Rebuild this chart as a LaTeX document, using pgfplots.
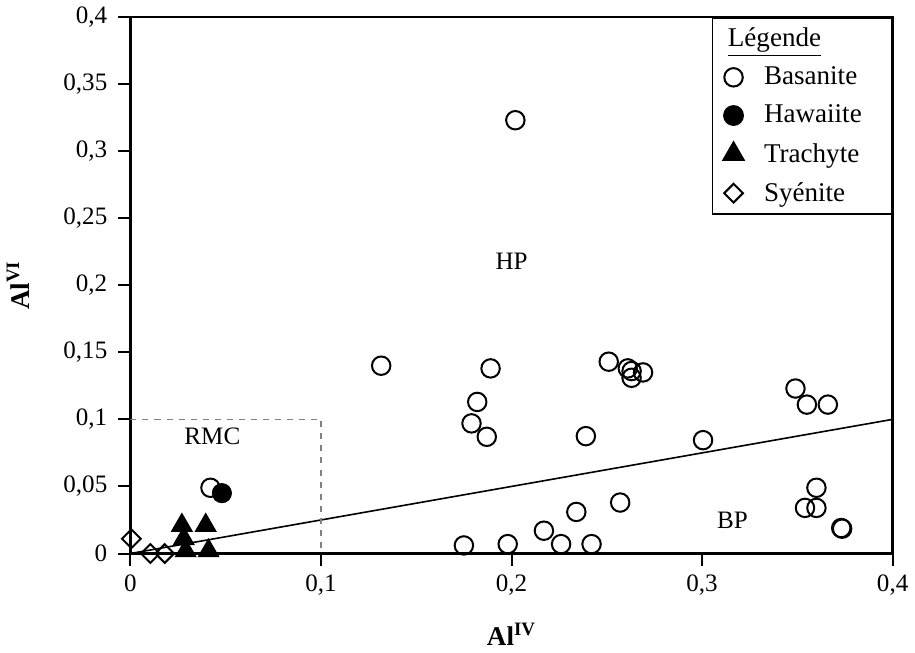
\documentclass[border=0pt]{standalone}
\usepackage{pgfplots}
\pgfplotsset{compat=1.18}
\usepackage{fontspec}
\setmainfont{Liberation Serif}

\begin{document}
\begin{tikzpicture}
\begin{axis}[
  scale only axis,
  width=380pt, height=267.5pt,
  xmin=0, xmax=0.4, ymin=0, ymax=0.4,
  xtick={0,0.1,0.2,0.3,0.4},
  xticklabels={0,{0,1},{0,2},{0,3},{0,4}},
  ytick={0,0.05,0.1,0.15,0.2,0.25,0.3,0.35,0.4},
  yticklabels={0,{0,05},{0,1},{0,15},{0,2},{0,25},{0,3},{0,35},{0,4}},
  axis line style={line width=1.3pt},
  tick style={line width=1pt, black},
  tick align=outside, tick pos=left,
  major tick length=6pt,
  ticklabel style={font=\fontsize{12.5}{15}\selectfont},
  yticklabel style={xshift=-2pt},
  xticklabel style={yshift=-1pt},
  xlabel={\textbf{Al\textsuperscript{IV}}},
  ylabel={\textbf{Al\textsuperscript{VI}}},
  xlabel style={font=\fontsize{13.5}{15}\selectfont},
  ylabel style={font=\fontsize{13.5}{15}\selectfont},
  xlabel shift=7pt,
  ylabel shift=10pt,
  clip mode=individual,
  legend style={at={(rel axis cs:1,1)}, anchor=north east,
    draw=black, line width=0.8pt, font=\fontsize{13.5}{16}\selectfont,
    row sep=4.6pt, column sep=8pt, inner xsep=2pt, inner ysep=3pt,
    cells={anchor=west}},
  legend cell align=left,
]
% limit line between the high- and low-pressure fields
\addplot[black, line width=0.8pt, forget plot] coordinates {(0,0) (0.4,0.1)};
% RMC field
\addplot[gray, dashed, line width=0.6pt, forget plot] coordinates {(0,0.1) (0.1,0.1) (0.1,0)};

\addlegendimage{empty legend}
\addlegendentry{\hspace*{-18pt}\underline{Légende}}

% Basanite
\addplot[only marks, mark=o, mark size=4.6pt, line width=1pt, black,
  mark options={fill=white}] coordinates {
  (0.202,0.323) (0.1316,0.140) (0.189,0.138) (0.182,0.113) (0.179,0.097)
  (0.187,0.087) (0.251,0.143) (0.261,0.138) (0.269,0.135) (0.263,0.136)
  (0.263,0.131) (0.239,0.0875) (0.3005,0.0845) (0.349,0.123) (0.355,0.111)
  (0.366,0.111) (0.360,0.049) (0.354,0.034) (0.360,0.034) (0.373,0.019)
  (0.3735,0.0185) (0.257,0.038) (0.234,0.031) (0.217,0.017) (0.175,0.006)
  (0.198,0.007) (0.226,0.007) (0.242,0.007) (0.042,0.049)
};
\addlegendentry{Basanite}

% Hawaiite
\addplot[only marks, mark=*, mark size=4.8pt, black] coordinates {
  (0.048,0.045)
};
\addlegendentry{Hawaiite\hspace*{11pt}}

% Trachyte
\addplot[only marks, mark=triangle*, mark size=6pt, black] coordinates {
  (0.027,0.021) (0.0395,0.021) (0.028,0.011) (0.029,0.002)
  (0.041,0.002)
};
\addlegendentry{Trachyte}

% Syénite
\addplot[only marks, mark=square, mark size=3.3pt, line width=1pt, black,
  mark options={fill=white, rotate=45}] coordinates {
  (0.0005,0.011) (0.0105,0.000) (0.018,0.000)
};
\addlegendentry{Syénite}

\node[font=\fontsize{12.5}{15}\selectfont] at (axis cs:0.2,0.2175) {HP};
\node[font=\fontsize{12.5}{15}\selectfont] at (axis cs:0.043,0.087) {RMC};
\node[font=\fontsize{12.5}{15}\selectfont] at (axis cs:0.316,0.0247) {BP};
\end{axis}
\end{tikzpicture}
\end{document}
